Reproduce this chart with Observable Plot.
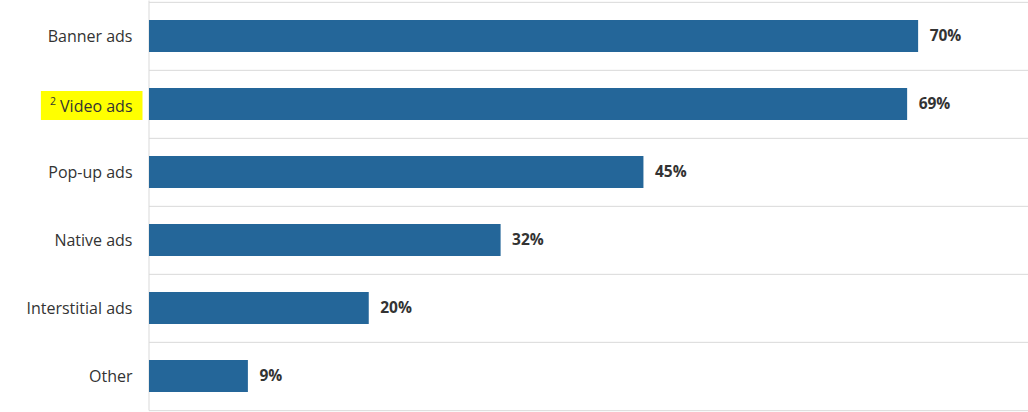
<!DOCTYPE html>
<html>
<head>
<meta charset="utf-8">
<script src="https://cdn.jsdelivr.net/npm/d3@7"></script>
<script src="https://cdn.jsdelivr.net/npm/@observablehq/plot@0.6"></script>
<style>
  html, body { margin: 0; padding: 0; background: #fff; }
  #chart svg { display: block; }
</style>
</head>
<body>
<div id="chart"></div>
<script>
const categories = ["Banner ads", "Video ads", "Pop-up ads", "Native ads", "Interstitial ads", "Other"];
const values = [70, 69, 45, 32, 20, 9];
const highlighted = "Video ads";
const footnoteMark = "2";
const xDomain = [0, 80];

const data = categories.map((c, i) => ({category: c, value: values[i]}));

const W = 1028, H = 412, mTop = 0.5, mBottom = 1.5, mLeft = 149;
const step = (H - mTop - mBottom) / categories.length;
const gridColor = "#d9d9d9";

const chart = Plot.plot({
  width: W,
  height: H,
  marginLeft: mLeft,
  marginRight: 0,
  marginTop: mTop,
  marginBottom: mBottom,
  style: {fontFamily: "'Open Sans', 'Noto Sans', sans-serif", fontSize: "16px", color: "#333", background: "#fff"},
  x: {domain: xDomain, axis: null},
  y: {domain: categories, padding: 0, label: null},
  marks: [
    Plot.ruleY(categories, {y: d => d, stroke: gridColor, strokeWidth: 1, dy: -step / 2}),
    Plot.ruleY(categories.slice(-1), {y: d => d, stroke: gridColor, strokeWidth: 1, dy: step / 2}),
    Plot.ruleX([0], {stroke: gridColor, strokeWidth: 1, dx: -0.5}),
    Plot.barX(data, {y: "category", x: "value", fill: "#246699", insetTop: 18, insetBottom: 18}),
    Plot.text(data, {y: "category", x: "value", text: d => d.value + "%", dx: 11, textAnchor: "start", fontWeight: "bold", fontSize: 15.5, fill: "#333"}),
    Plot.axisY({tickSize: 0, tickPadding: 17, fontSize: 16, label: null})
  ]
});

document.getElementById("chart").appendChild(chart);

// footnote superscript + highlight box behind the flagged category label
d3.select(chart).selectAll("text").each(function() {
  if (this.textContent === highlighted) {
    const sel = d3.select(this);
    sel.text(null);
    sel.append("tspan").attr("font-size", 10.5).attr("dy", "-0.45em").text(footnoteMark);
    sel.append("tspan").attr("dy", "0.45em").text("\u00a0" + highlighted);
    const bb = this.getBBox();
    const rect = document.createElementNS("http://www.w3.org/2000/svg", "rect");
    const cy = bb.y + bb.height / 2;
    rect.setAttribute("x", bb.x - 9);
    rect.setAttribute("y", cy - 14.5);
    rect.setAttribute("width", bb.width + 19);
    rect.setAttribute("height", 29);
    rect.setAttribute("fill", "#ffff00");
    const t = this.getAttribute("transform");
    if (t) rect.setAttribute("transform", t);
    this.parentNode.insertBefore(rect, this);
  }
});
</script>
</body>
</html>
